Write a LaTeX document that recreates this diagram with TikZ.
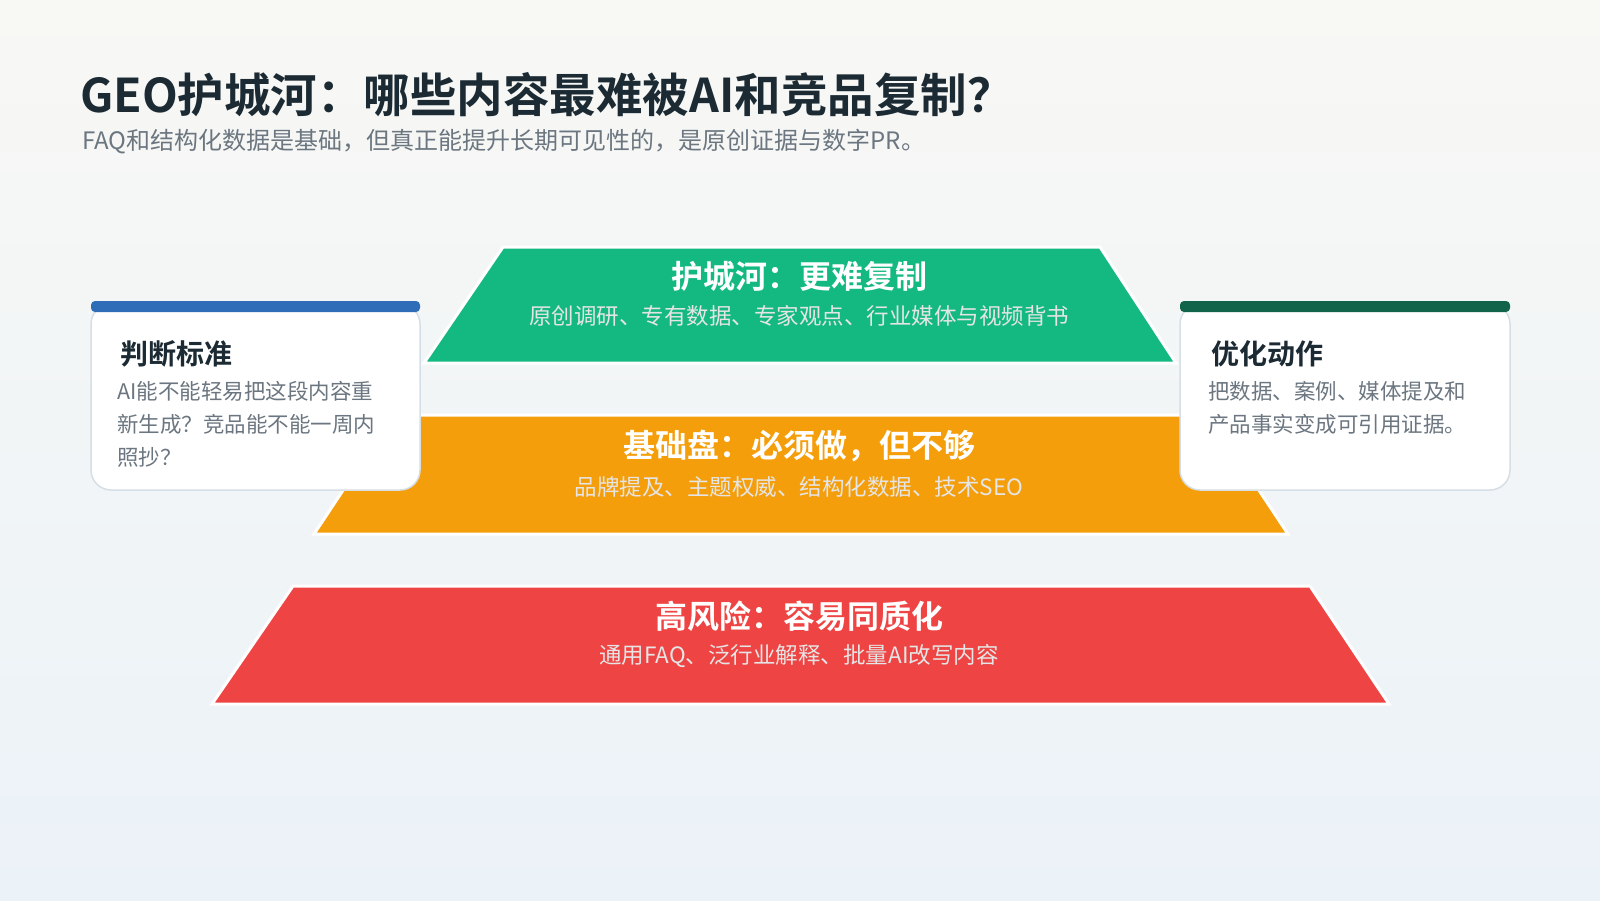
\documentclass[tikz,border=0pt]{standalone}
\usepackage{fontspec}
\setmainfont{Noto Sans CJK SC}[BoldFont={Noto Sans CJK SC Bold}]
\definecolor{bgtop}{HTML}{F8F8F5}
\definecolor{bgbot}{HTML}{EBF2F8}
\definecolor{ink}{HTML}{1B2A33}
\definecolor{sub}{HTML}{6B7680}
\definecolor{gr}{HTML}{13B981}
\definecolor{og}{HTML}{F59E0B}
\definecolor{rd}{HTML}{EF4444}
\definecolor{blu}{HTML}{2F6DB8}
\definecolor{dgr}{HTML}{11634A}
\definecolor{cardln}{HTML}{D6DEE6}
\tikzset{
 tier/.style={draw=white,line width=3pt,line join=miter},
 ttl/.style={text=white,font=\bfseries\fontsize{32}{36}\selectfont,anchor=center},
 tsub/.style={text=white!90!black,font=\fontsize{22.5}{25}\selectfont,anchor=center},
 card/.style={fill=white,draw=cardln,line width=1.5pt,rounded corners=20pt},
 ctitle/.style={text=ink,font=\bfseries\fontsize{28}{32}\selectfont,anchor=base west},
 cbody/.style={text=sub,font=\fontsize{21.5}{33}\selectfont,anchor=north west,align=left,inner sep=0},
}
\begin{document}
\begin{tikzpicture}[x=1pt,y=-1pt]
\shade[top color=bgtop,bottom color=bgbot] (0,0) rectangle (1600,900);
\useasboundingbox (0,0) rectangle (1600,900);
\node[anchor=base west,text=ink,font=\bfseries\fontsize{46.5}{50}\selectfont,inner sep=0] (title) at (80,112) {GEO护城河：哪些内容最难被AI和竞品复制？};
\node[anchor=west,text=sub,font=\fontsize{24}{27}\selectfont,inner sep=0] (subt) at (82,142) {FAQ和结构化数据是基础，但真正能提升长期可见性的，是原创证据与数字PR。};
% tiers
\path[tier,fill=rd] (293,586) -- (1310,586) -- (1389,704) -- (212,704) -- cycle;
\path[tier,fill=og] (393,415) -- (1209,415) -- (1288,534) -- (314,534) -- cycle;
\path[tier,fill=gr] (503,247) -- (1100,247) -- (1176,363) -- (424,363) -- cycle;
\node[ttl] (t1) at (799,276) {护城河：更难复制};
\node[tsub] (s1) at (799,316) {原创调研、专有数据、专家观点、行业媒体与视频背书};
\node[ttl] (t2) at (799,446) {基础盘：必须做，但不够};
\node[tsub] (s2) at (799,487) {品牌提及、主题权威、结构化数据、技术SEO};
\node[ttl] (t3) at (799,616) {高风险：容易同质化};
\node[tsub] (s3) at (799,656) {通用FAQ、泛行业解释、批量AI改写内容};
% cards
\path[card] (91,304) rectangle (420,490);
\path[fill=blu,rounded corners=4pt] (91,301) rectangle (420,312);
\node[ctitle] (c1) at (117,364) {判断标准};
\node[cbody] (b1) at (117,381) {AI能不能轻易把这段内容重\\新生成？竞品能不能一周内\\照抄？};
\path[card] (1180,304) rectangle (1510,490);
\path[fill=dgr,rounded corners=4pt] (1180,301) rectangle (1510,312);
\node[ctitle] (c2) at (1208,364) {优化动作};
\node[cbody] (b2) at (1208,381) {把数据、案例、媒体提及和\\产品事实变成可引用证据。};
\end{tikzpicture}
\end{document}
